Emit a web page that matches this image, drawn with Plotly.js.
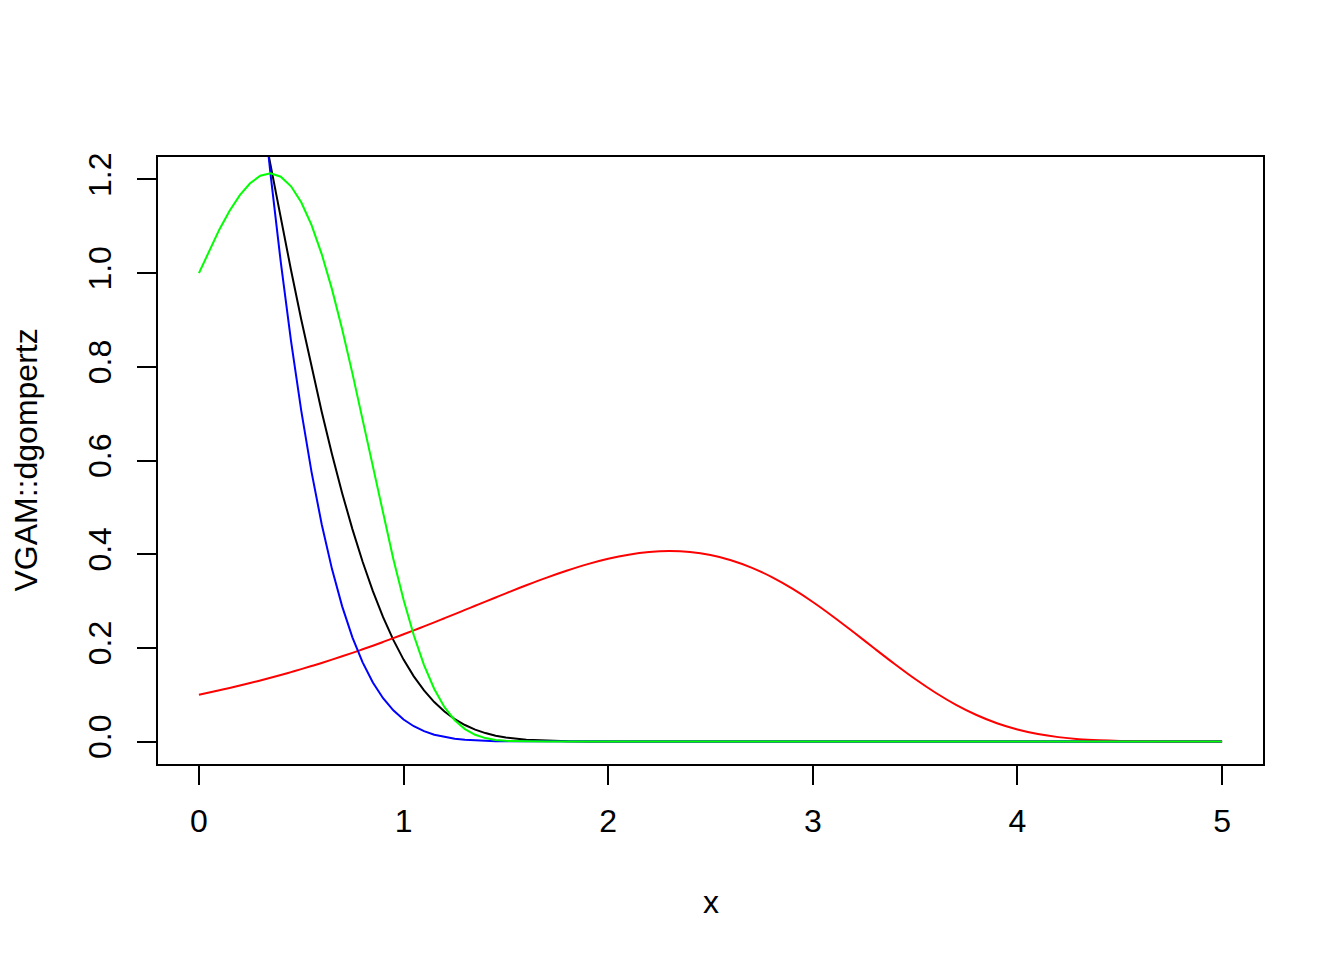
<!DOCTYPE html>
<html>
<head>
<meta charset="utf-8">
<script src="https://cdn.plot.ly/plotly-3.0.1.min.js"></script>
<style>
  html, body { margin: 0; padding: 0; background: #ffffff; }
  #chart { width: 1344px; height: 960px; }
</style>
</head>
<body>
<div id="chart"></div>
<script>
// x positions at which the curves were read
var xs = [0, 0.05, 0.1, 0.15, 0.2, 0.25, 0.3, 0.35, 0.4, 0.45, 0.5, 0.55, 0.6, 0.65, 0.7, 0.75,
  0.8, 0.85, 0.9, 0.95, 1.0, 1.05, 1.1, 1.15, 1.2, 1.25, 1.3, 1.35, 1.4, 1.45, 1.5,
  1.6, 1.7, 1.8, 1.9, 2.0, 2.1, 2.2, 2.3, 2.4, 2.5, 2.6, 2.7, 2.8, 2.9, 3.0, 3.1, 3.2, 3.3,
  3.4, 3.5, 3.6, 3.7, 3.8, 3.9, 4.0, 4.1, 4.2, 4.3, 4.4, 4.5, 4.6, 4.7, 4.8, 4.9, 5.0];

// black curve
var blackY = [2.0, 1.8976, 1.7910, 1.6812, 1.5689, 1.4551, 1.3410, 1.2276, 1.1157, 1.0066, 0.9010,
  0.7998, 0.7039, 0.6139, 0.5303, 0.4535, 0.3837, 0.3211, 0.2655, 0.2169, 0.1749, 0.1392, 0.1091,
  0.0843, 0.0641, 0.0480, 0.0352, 0.0254, 0.0180, 0.0125, 0.0085,
  0.0037, 0.0014, 0.0005, 0.0002, 0, 0, 0, 0, 0, 0, 0, 0, 0, 0, 0, 0, 0, 0,
  0, 0, 0, 0, 0, 0, 0, 0, 0, 0, 0, 0, 0, 0, 0, 0, 0];

// red curve
var redY = [0.1000, 0.1046, 0.1094, 0.1143, 0.1195, 0.1248, 0.1304, 0.1361, 0.1420, 0.1482, 0.1545,
  0.1611, 0.1678, 0.1748, 0.1820, 0.1893, 0.1969, 0.2046, 0.2126, 0.2207, 0.2289, 0.2373, 0.2459,
  0.2545, 0.2633, 0.2721, 0.2810, 0.2899, 0.2988, 0.3076, 0.3164,
  0.3336, 0.3500, 0.3651, 0.3787, 0.3901, 0.3988, 0.4045, 0.4066, 0.4046, 0.3982, 0.3872, 0.3714,
  0.3510, 0.3263, 0.2979, 0.2665, 0.2332, 0.1991, 0.1655, 0.1334, 0.1041, 0.0783, 0.0566, 0.0390,
  0.0257, 0.0160, 0.0094, 0.0051, 0.0026, 0.0012, 0.0005, 0.0002, 0.0001, 0, 0];

// blue curve
var blueY = [3.0, 2.7042, 2.4184, 2.1450, 1.8860, 1.6430, 1.4177, 1.2109, 1.0234, 0.8553, 0.7064,
  0.5763, 0.4640, 0.3686, 0.2886, 0.2225, 0.1690, 0.1261, 0.0925, 0.0666, 0.0471, 0.0326, 0.0221,
  0.0146, 0.0095, 0.0060, 0.0037, 0.0022, 0.0013, 0.0007, 0.0004,
  0.0001, 0, 0, 0, 0, 0, 0, 0, 0, 0, 0, 0, 0, 0, 0, 0, 0, 0,
  0, 0, 0, 0, 0, 0, 0, 0, 0, 0, 0, 0, 0, 0, 0, 0, 0];

// green curve
var greenY = [1.0, 1.0486, 1.0934, 1.1332, 1.1666, 1.1920, 1.2080, 1.2130, 1.2059, 1.1855, 1.1513,
  1.1029, 1.0407, 0.9659, 0.8802, 0.7860, 0.6862, 0.5845, 0.4844, 0.3895, 0.3028, 0.2269, 0.1632,
  0.1122, 0.0734, 0.0455, 0.0265, 0.0144, 0.0073, 0.0034, 0.0014,
  0.0002, 0, 0, 0, 0, 0, 0, 0, 0, 0, 0, 0, 0, 0, 0, 0, 0, 0,
  0, 0, 0, 0, 0, 0, 0, 0, 0, 0, 0, 0, 0, 0, 0, 0, 0];

var xTickVals = [0, 1, 2, 3, 4, 5];
var xTickText = ['0', '1', '2', '3', '4', '5'];
var yTickVals = [0, 0.2, 0.4, 0.6, 0.8, 1.0, 1.2];
var yTickText = ['0.0', '0.2', '0.4', '0.6', '0.8', '1.0', '1.2'];
var xLabel = 'x';
var yLabel = 'VGAM::dgompertz';

var FONT = 'Liberation Sans, Arial, Helvetica, sans-serif';

function curve(y, color, shape) {
  return {
    x: xs, y: y, type: 'scatter', mode: 'lines',
    line: { color: color, width: 2, shape: shape || 'linear' },
    hoverinfo: 'skip', showlegend: false
  };
}

var data = [
  curve(blackY, '#000000'),
  curve(redY, '#FF0000', 'spline'),
  curve(blueY, '#0000FF'),
  curve(greenY, '#00FF00')
];

var axisCommon = {
  showgrid: false, zeroline: false,
  showline: true, mirror: true, linecolor: '#000000', linewidth: 2,
  ticks: 'outside', ticklen: 19, tickwidth: 2, tickcolor: '#000000',
  tickfont: { family: FONT, size: 32, color: '#000000' },
  tickmode: 'array', fixedrange: true
};

var layout = {
  width: 1344, height: 960,
  paper_bgcolor: '#ffffff', plot_bgcolor: '#ffffff',
  margin: { l: 158, r: 81, t: 157, b: 196, pad: 0 },
  showlegend: false,
  xaxis: Object.assign({}, axisCommon, {
    range: [-0.2, 5.2], tickvals: xTickVals, ticktext: xTickText,
    ticklabelstandoff: 9
  }),
  yaxis: Object.assign({}, axisCommon, {
    range: [-0.048, 1.248], tickvals: yTickVals, ticktext: yTickText,
    tickangle: -90, ticklabelstandoff: 13
  }),
  annotations: [
    { text: xLabel, xref: 'paper', yref: 'paper', x: 0.5, y: 0,
      xanchor: 'center', yanchor: 'middle', yshift: -138, showarrow: false,
      font: { family: FONT, size: 32, color: '#000000' } },
    { text: yLabel, xref: 'paper', yref: 'paper', x: 0, y: 0.5,
      xanchor: 'center', yanchor: 'middle', xshift: -133, textangle: -90, showarrow: false,
      font: { family: FONT, size: 32, color: '#000000' } }
  ]
};

Plotly.newPlot('chart', data, layout, { displayModeBar: false, staticPlot: true });
</script>
</body>
</html>
